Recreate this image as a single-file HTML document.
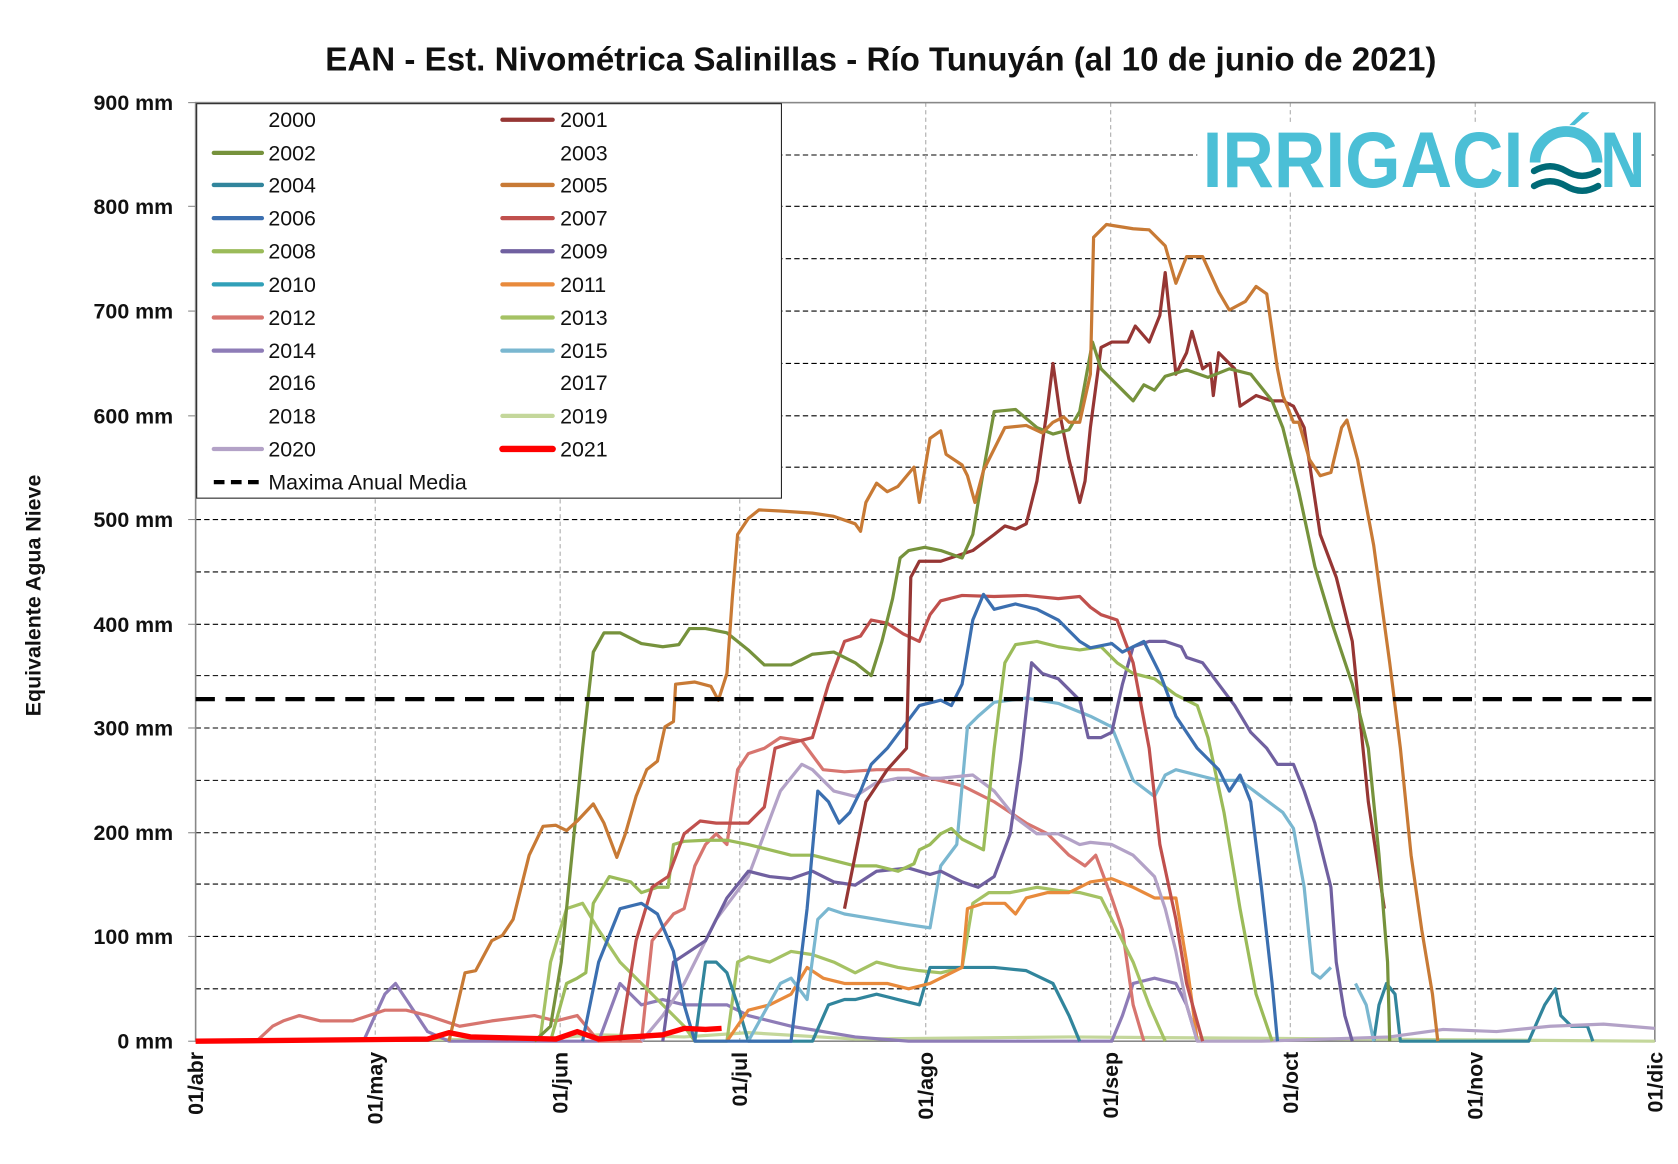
<!DOCTYPE html>
<html><head><meta charset="utf-8"><style>
body{margin:0;background:#fff}
svg{display:block;font-family:"Liberation Sans",sans-serif}
</style></head><body>
<svg width="1678" height="1164" viewBox="0 0 1678 1164" xmlns="http://www.w3.org/2000/svg">
<rect width="1678" height="1164" fill="#fff"/>
<g transform="scale(1.069)">
<text x="824" y="66" text-anchor="middle" font-size="31" font-weight="bold" fill="#111">EAN - Est. Nivométrica Salinillas - Río Tunuyán (al 10 de junio de 2021)</text>
<!-- grid -->
<g stroke="#000" stroke-width="1" stroke-dasharray="5,3">
<line x1="183" x2="1548" y1="925" y2="925"/><line x1="183" x2="1548" y1="876" y2="876"/><line x1="183" x2="1548" y1="827" y2="827"/><line x1="183" x2="1548" y1="779" y2="779"/><line x1="183" x2="1548" y1="730" y2="730"/><line x1="183" x2="1548" y1="681" y2="681"/><line x1="183" x2="1548" y1="632" y2="632"/><line x1="183" x2="1548" y1="584" y2="584"/><line x1="183" x2="1548" y1="535" y2="535"/><line x1="183" x2="1548" y1="486" y2="486"/><line x1="183" x2="1548" y1="437" y2="437"/><line x1="183" x2="1548" y1="389" y2="389"/><line x1="183" x2="1548" y1="340" y2="340"/><line x1="183" x2="1548" y1="291" y2="291"/><line x1="183" x2="1548" y1="242" y2="242"/><line x1="183" x2="1548" y1="193" y2="193"/><line x1="183" x2="1548" y1="145" y2="145"/>
</g>
<g stroke="#aaa" stroke-width="1" stroke-dasharray="4,3">
<line x1="351" x2="351" y1="96" y2="974"/><line x1="524" x2="524" y1="96" y2="974"/><line x1="692" x2="692" y1="96" y2="974"/><line x1="866" x2="866" y1="96" y2="974"/><line x1="1039" x2="1039" y1="96" y2="974"/><line x1="1207" x2="1207" y1="96" y2="974"/><line x1="1380" x2="1380" y1="96" y2="974"/>
</g>
<rect x="183" y="96" width="1365" height="878" fill="none" stroke="#888" stroke-width="1.5"/>
<g stroke="#888"><line x1="176" x2="183" y1="96" y2="96"/><line x1="176" x2="183" y1="193" y2="193"/><line x1="176" x2="183" y1="291" y2="291"/><line x1="176" x2="183" y1="389" y2="389"/><line x1="176" x2="183" y1="486" y2="486"/><line x1="176" x2="183" y1="584" y2="584"/><line x1="176" x2="183" y1="681" y2="681"/><line x1="176" x2="183" y1="779" y2="779"/><line x1="176" x2="183" y1="876" y2="876"/><line x1="176" x2="183" y1="974" y2="974"/></g>
<g font-size="20" font-weight="bold" text-anchor="end" fill="#111">
<text x="162" y="103">900 mm</text><text x="162" y="200">800 mm</text><text x="162" y="298">700 mm</text><text x="162" y="396">600 mm</text><text x="162" y="493">500 mm</text><text x="162" y="591">400 mm</text><text x="162" y="688">300 mm</text><text x="162" y="786">200 mm</text><text x="162" y="883">100 mm</text><text x="162" y="981">0 mm</text>
</g>
<text transform="translate(38,557) rotate(-90)" text-anchor="middle" font-size="20" font-weight="bold" fill="#111">Equivalente Agua Nieve</text>
<g font-size="20" font-weight="bold" text-anchor="end" fill="#111">
<text transform="translate(190,984) rotate(-90)">01/abr</text><text transform="translate(358,984) rotate(-90)">01/may</text><text transform="translate(531,984) rotate(-90)">01/jun</text><text transform="translate(699,984) rotate(-90)">01/jul</text><text transform="translate(873,984) rotate(-90)">01/ago</text><text transform="translate(1046,984) rotate(-90)">01/sep</text><text transform="translate(1214,984) rotate(-90)">01/oct</text><text transform="translate(1387,984) rotate(-90)">01/nov</text><text transform="translate(1555,984) rotate(-90)">01/dic</text>
</g>
<!-- logo -->
<rect x="1120" y="115" width="425" height="65" fill="#fff"/>
<text x="1125" y="175" font-size="74" font-weight="bold" fill="#4bbfd6" textLength="300" lengthAdjust="spacingAndGlyphs">IRRIGACI</text>
<path d="M1436,152 a28,28 0 0 1 58,0" fill="none" stroke="#4bbfd6" stroke-width="10"/>
<path d="M1468,117 l12,-12 h7 l-14,12 z" fill="#4bbfd6"/>
<g fill="none" stroke="#006a77" stroke-width="6" stroke-linecap="round"><path d="M1435,160 q15,-9 30,0 t30,0"/><path d="M1435,174 q15,-9 30,0 t30,0"/></g>
<text x="1497" y="175" font-size="74" font-weight="bold" fill="#4bbfd6" textLength="42" lengthAdjust="spacingAndGlyphs">N</text>
<!-- series -->
<g fill="none" stroke-width="3" stroke-linejoin="round">
<polyline stroke="#c4d79b" points="183,974 500,972 560,968 640,970 700,966 800,972 1000,970 1548,974"/>
<polyline stroke="#8e7cb7" points="340,974 360,930 370,920 380,935 400,965 420,974 560,974 580,920 600,940 620,935 640,940 680,940 700,950 740,960 800,970 850,974 1040,974 1050,950 1060,920 1080,915 1100,920 1110,940 1120,974"/>
<polyline stroke="#d7756f" points="240,974 255,960 265,955 280,950 300,955 330,955 360,945 380,945 400,950 430,960 460,955 500,950 520,955 540,950 560,974 600,974 610,880 630,855 640,850 650,810 660,790 670,780 680,790 690,720 700,705 715,700 730,690 750,693 770,720 790,722 820,720 850,720 870,728 900,735 930,750 960,770 980,780 1000,800 1015,810 1025,800 1040,840 1050,870 1060,940 1070,974"/>
<polyline stroke="#a5c264" points="505,974 515,900 530,850 545,845 560,870 580,900 600,920 620,940 640,960 650,974 680,974 690,900 700,895 720,900 740,890 760,893 780,900 800,910 820,900 840,905 860,908 880,910 900,905 910,845 925,835 945,835 970,830 990,833 1010,835 1030,840 1040,860 1060,900 1075,940 1090,974"/>
<polyline stroke="#31859c" points="650,974 660,900 670,900 680,910 690,940 700,974 760,974 775,940 790,935 800,935 820,930 840,935 860,940 870,905 900,905 930,905 960,908 985,920 1000,950 1010,974"/>
<polyline stroke="#31859c" points="1285,974 1290,940 1297,920 1305,930 1310,974 1430,974 1445,940 1455,925 1460,950 1470,960 1485,960 1490,974"/>
<polyline stroke="#e88a3c" points="680,974 700,945 720,940 740,930 755,905 770,915 790,920 810,920 830,920 850,925 870,920 900,905 905,850 920,845 940,845 950,855 960,840 980,835 1000,835 1020,825 1040,822 1060,830 1080,840 1100,840 1110,900 1120,974"/>
<polyline stroke="#7ab7d0" points="700,974 730,920 740,915 755,935 765,860 775,850 790,855 820,860 850,865 870,868 880,810 895,790 905,680 915,670 930,657 960,653 990,658 1020,670 1040,680 1050,705 1060,730 1080,745 1090,725 1100,720 1120,725 1140,730 1160,730 1180,745 1200,760 1210,775 1220,830 1228,910 1235,915 1245,905"/>
<polyline stroke="#7ab7d0" points="1268,920 1278,940 1285,974"/>
<polyline stroke="#b3a2c7" points="600,974 620,950 640,920 650,900 670,860 685,840 700,820 715,780 730,740 750,715 760,720 780,740 800,745 820,732 840,728 880,728 910,725 930,740 950,765 970,780 990,780 1010,790 1020,788 1040,790 1060,800 1080,820 1090,850 1100,890 1110,940 1120,974 1180,974 1300,970 1350,963 1400,965 1450,960 1500,958 1548,962"/>
<polyline stroke="#7060a0" points="620,974 630,900 645,890 660,880 680,840 700,815 720,820 740,822 760,815 780,825 800,828 820,815 850,812 870,818 880,815 900,825 915,830 930,820 945,780 955,710 965,620 975,630 990,635 1010,655 1018,690 1030,690 1040,685 1050,640 1060,605 1075,600 1090,600 1105,605 1110,615 1125,620 1140,640 1155,660 1170,685 1185,700 1195,715 1210,715 1220,740 1230,770 1245,830 1250,900 1258,950 1265,974"/>
<polyline stroke="#9bbb59" points="515,974 530,920 540,915 548,910 555,845 570,820 590,825 600,835 615,830 625,830 630,790 640,787 660,786 680,786 700,790 720,795 740,800 760,800 780,805 800,810 820,810 840,815 855,808 860,795 870,790 880,780 890,775 900,785 920,795 930,700 940,620 950,603 970,600 990,605 1010,608 1030,605 1045,620 1060,630 1080,635 1100,650 1120,660 1130,690 1145,760 1160,850 1175,930 1190,974"/>
<polyline stroke="#c0504d" points="580,974 595,880 610,830 625,820 640,780 655,768 670,770 700,770 715,755 725,700 740,695 760,690 775,640 790,600 805,595 815,580 830,583 845,593 860,600 870,575 880,562 900,557 930,558 960,557 990,560 1010,558 1020,568 1030,575 1045,580 1060,620 1075,700 1085,790 1100,860 1110,920 1125,974"/>
<polyline stroke="#3b6fb0" points="545,974 560,900 580,850 600,845 615,855 630,890 640,940 650,974 700,974 740,974 755,850 765,740 775,750 785,770 795,760 805,740 815,715 830,700 845,680 860,660 880,655 890,660 900,640 910,580 920,556 930,570 950,565 970,570 990,580 1000,590 1010,600 1020,606 1040,602 1050,610 1070,600 1085,630 1100,670 1120,700 1140,720 1150,740 1160,725 1170,750 1180,830 1190,920 1195,974"/>
<polyline stroke="#963634" points="790,850 800,800 810,750 830,720 848,700 852,540 860,525 880,525 895,520 910,515 930,500 940,492 950,495 960,490 970,450 980,380 985,340 992,390 1000,430 1010,470 1015,450 1020,400 1030,325 1040,320 1055,320 1062,305 1075,320 1085,295 1090,255 1100,350 1110,330 1115,310 1125,345 1132,340 1135,370 1140,330 1155,345 1160,380 1175,370 1190,375 1200,375 1210,380 1220,400 1235,500 1250,540 1265,600 1280,750 1295,850"/>
<polyline stroke="#76923c" points="500,974 515,960 525,900 535,800 545,700 555,610 565,592 580,592 600,602 620,605 635,603 645,588 660,588 680,592 700,608 715,622 740,622 760,612 780,610 800,620 815,632 825,600 835,560 842,522 850,515 865,512 880,515 900,522 910,500 920,440 930,385 950,383 970,400 985,406 1000,402 1010,385 1022,320 1030,345 1040,355 1050,365 1060,375 1070,360 1080,365 1090,352 1110,346 1130,353 1150,345 1170,350 1190,375 1200,400 1215,460 1230,530 1245,580 1265,640 1280,700 1290,800 1298,900 1300,974"/>
<polyline stroke="#c87a35" points="420,974 435,910 445,908 460,880 470,875 480,860 495,800 508,773 520,772 530,777 540,768 555,752 565,770 577,802 585,780 595,745 605,720 615,712 622,680 630,675 632,640 650,638 665,642 672,655 680,630 685,560 690,500 700,485 710,477 730,478 760,480 780,483 800,490 805,497 810,470 820,452 830,460 840,455 855,437 860,470 870,410 880,403 885,425 900,435 905,445 912,470 920,440 930,420 940,400 960,398 975,405 985,395 995,390 1000,395 1010,395 1020,350 1023,222 1035,210 1060,214 1075,215 1090,230 1100,265 1110,240 1125,240 1140,273 1150,290 1165,282 1175,268 1185,275 1195,345 1200,370 1210,395 1215,395 1225,430 1235,445 1245,442 1255,400 1260,393 1270,430 1285,510 1300,620 1310,700 1320,800 1330,870 1340,930 1345,974"/>
<polyline stroke="#ff0000" stroke-width="5" points="183,974 400,972 420,966 440,970 520,972 540,965 560,972 620,968 640,962 660,963 675,962"/>
</g>
<line x1="183" x2="1548" y1="654" y2="654" stroke="#000" stroke-width="4" stroke-dasharray="18,10"/>
<!-- legend -->
<rect x="184" y="97" width="547" height="369" fill="#fff" stroke="#222" stroke-width="1"/>
<g stroke-width="4" stroke-linecap="round">
<line x1="200" x2="245" y1="143" y2="143" stroke="#76923c"/>
<line x1="200" x2="245" y1="173" y2="173" stroke="#31859c"/>
<line x1="200" x2="245" y1="204" y2="204" stroke="#3b6fb0"/>
<line x1="200" x2="245" y1="235" y2="235" stroke="#9bbb59"/>
<line x1="200" x2="245" y1="266" y2="266" stroke="#31a0b8"/>
<line x1="200" x2="245" y1="297" y2="297" stroke="#d7756f"/>
<line x1="200" x2="245" y1="328" y2="328" stroke="#8e7cb7"/>
<line x1="200" x2="245" y1="420" y2="420" stroke="#b3a2c7"/>
<line x1="470" x2="517" y1="112" y2="112" stroke="#963634"/>
<line x1="470" x2="517" y1="173" y2="173" stroke="#c87a35"/>
<line x1="470" x2="517" y1="204" y2="204" stroke="#c0504d"/>
<line x1="470" x2="517" y1="235" y2="235" stroke="#7060a0"/>
<line x1="470" x2="517" y1="266" y2="266" stroke="#e88a3c"/>
<line x1="470" x2="517" y1="297" y2="297" stroke="#a5c264"/>
<line x1="470" x2="517" y1="328" y2="328" stroke="#7ab7d0"/>
<line x1="470" x2="517" y1="389" y2="389" stroke="#c4d79b"/>
<line x1="470" x2="517" y1="420" y2="420" stroke="#ff0000" stroke-width="6"/>
<line x1="200" x2="245" y1="451" y2="451" stroke="#000" stroke-dasharray="10,6" stroke-linecap="butt"/>
</g>
<g font-size="20" fill="#111">
<text x="251" y="119">2000</text><text x="251" y="150">2002</text><text x="251" y="180">2004</text><text x="251" y="211">2006</text><text x="251" y="242">2008</text><text x="251" y="273">2010</text><text x="251" y="304">2012</text><text x="251" y="335">2014</text><text x="251" y="365">2016</text><text x="251" y="396">2018</text><text x="251" y="427">2020</text><text x="251" y="458">Maxima Anual Media</text>
<text x="524" y="119">2001</text><text x="524" y="150">2003</text><text x="524" y="180">2005</text><text x="524" y="211">2007</text><text x="524" y="242">2009</text><text x="524" y="273">2011</text><text x="524" y="304">2013</text><text x="524" y="335">2015</text><text x="524" y="365">2017</text><text x="524" y="396">2019</text><text x="524" y="427">2021</text>
</g>
</g>
</svg>
</body></html>
